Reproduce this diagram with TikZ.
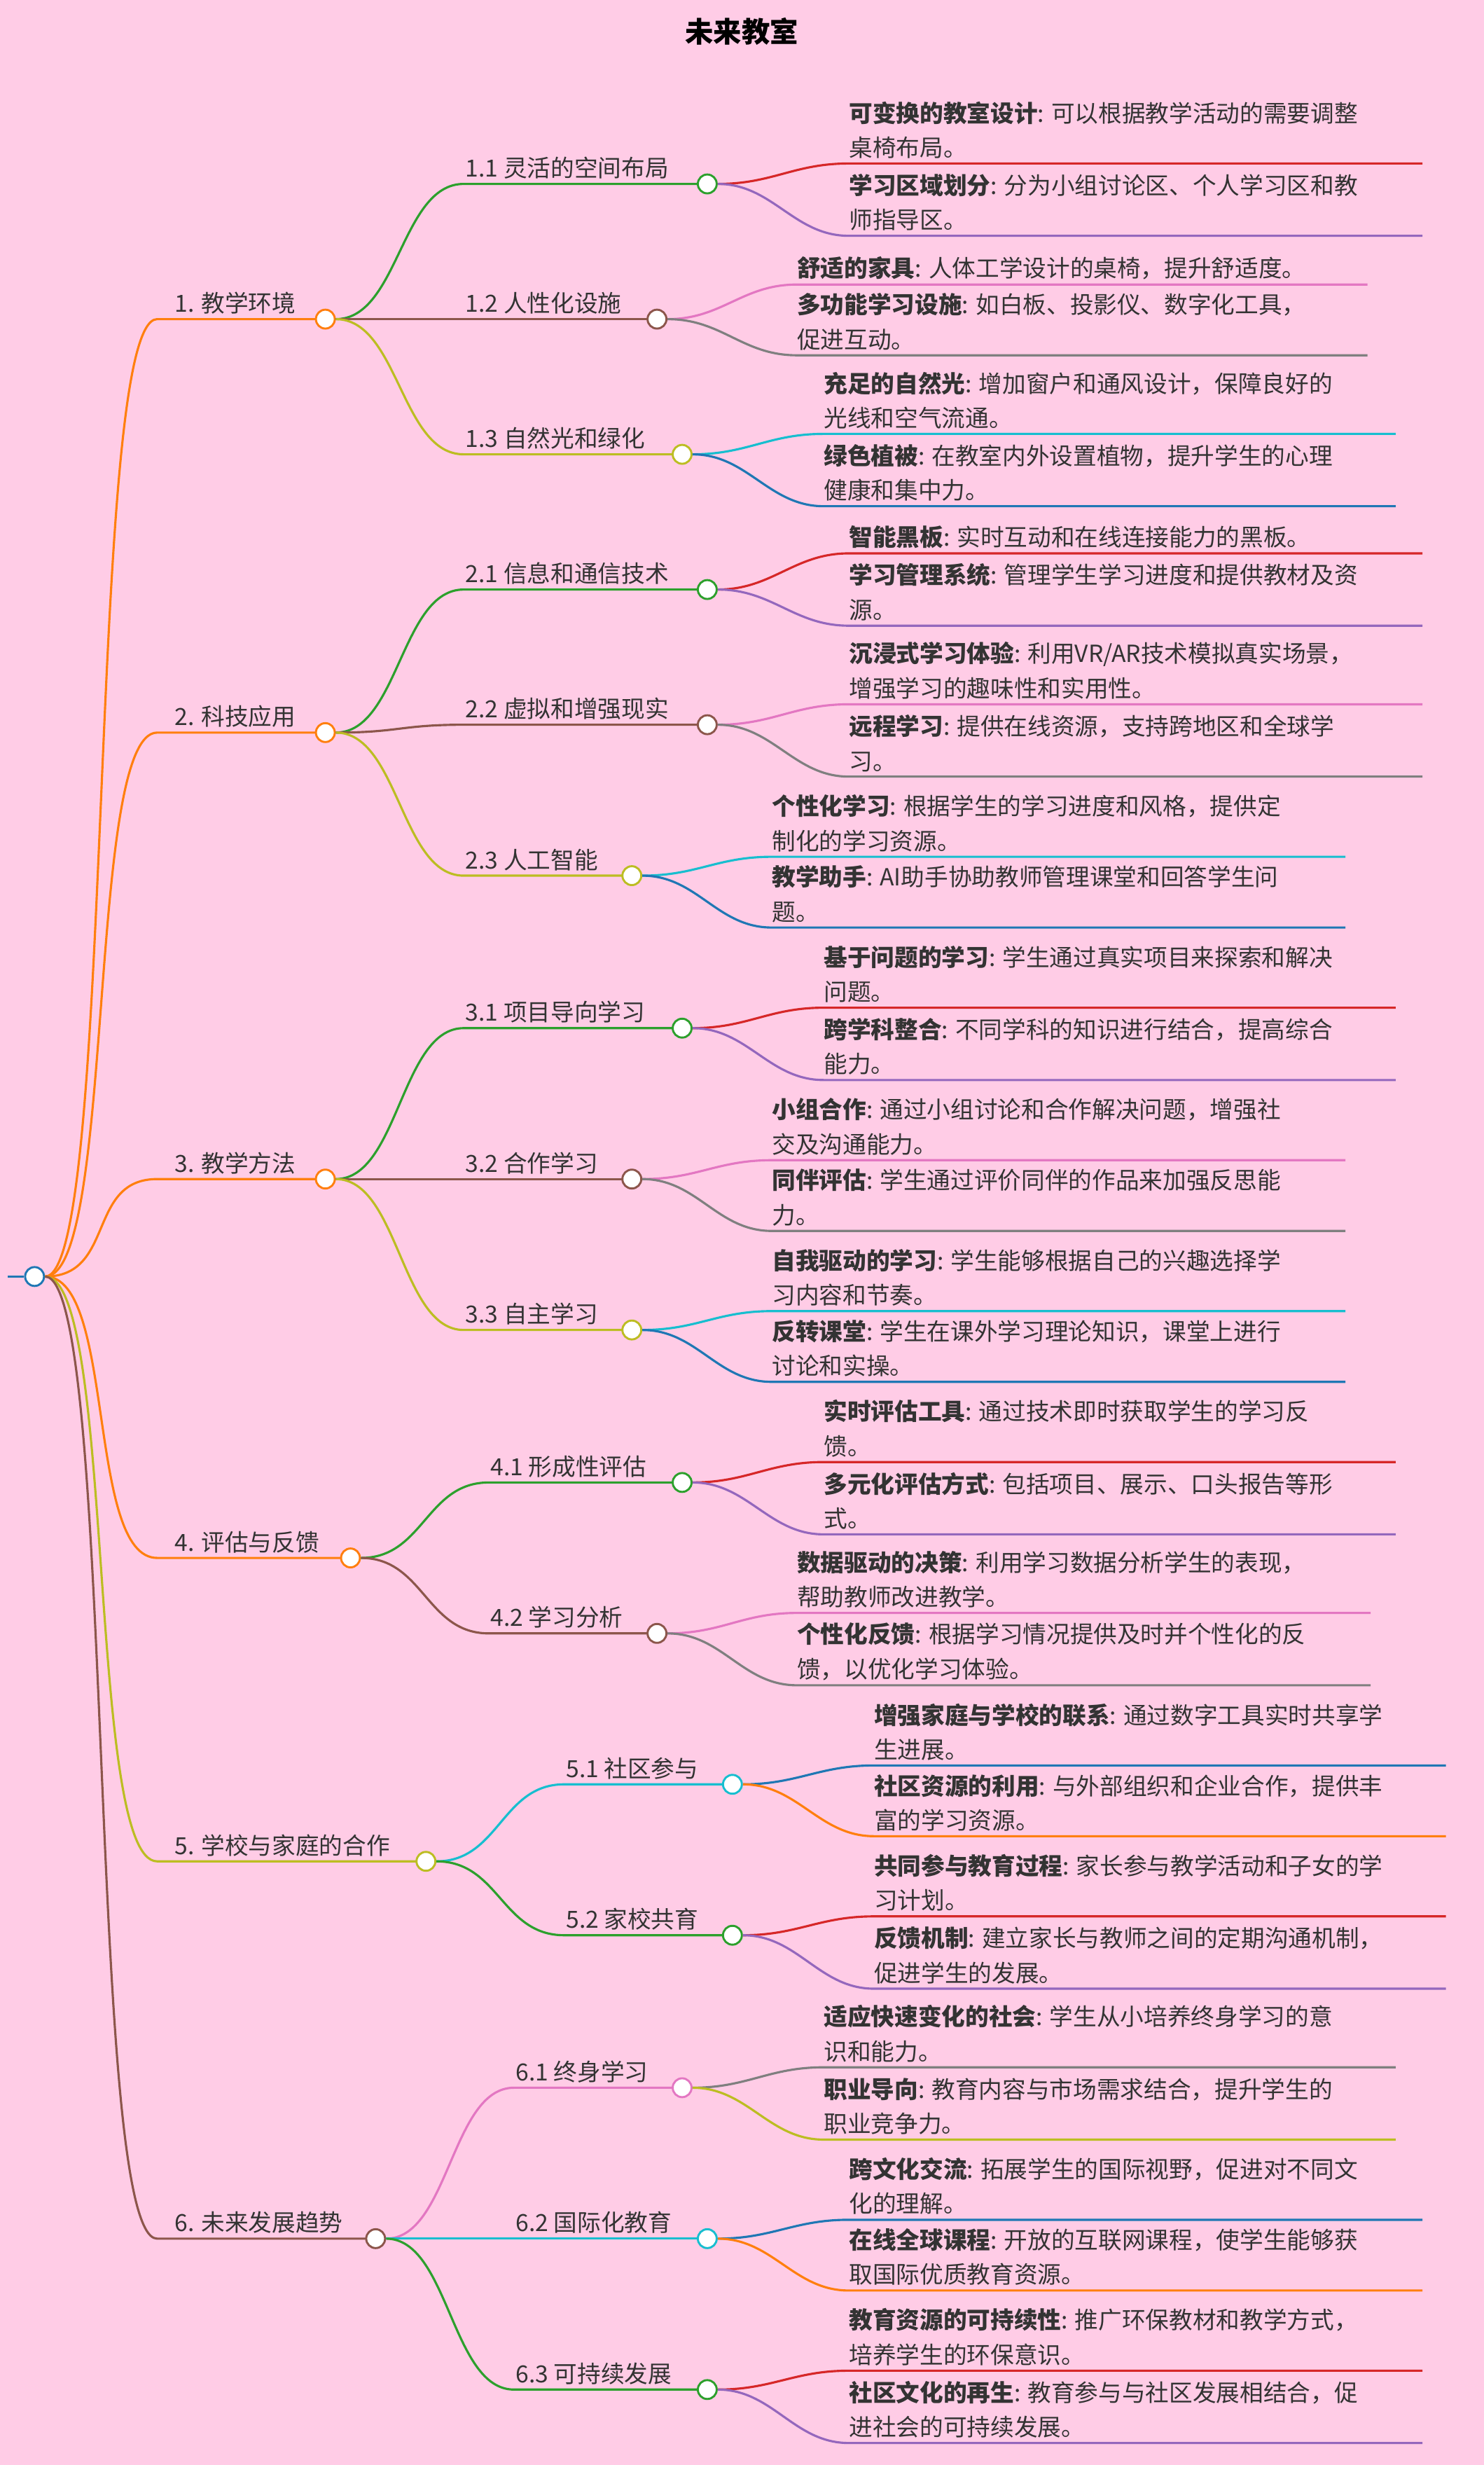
\documentclass[tikz,border=0pt]{standalone}
\usepackage{fontspec}
\setmainfont{Noto Sans CJK SC}
\begin{document}
\begin{tikzpicture}[x={(1pt,0)},y={(0,-1pt)},
  edge/.style={line width=1.4pt},
  dot/.style={circle,draw,line width=1.3pt,fill=white,minimum size=12pt,inner sep=0pt},
  lbl/.style={font=\fontsize{15}{20}\selectfont,text=black!80,inner xsep=1pt,inner ysep=3pt},
  leaftext/.style={font=\fontsize{15}{22}\selectfont,text=black!80,align=left,inner xsep=0pt,inner ysep=3pt}]
\definecolor{bg}{HTML}{FFCCE6}
\definecolor{cOr}{HTML}{FF7F0E}
\definecolor{cOl}{HTML}{BCBD22}
\definecolor{cBr}{HTML}{8C564B}
\definecolor{cGr}{HTML}{2CA02C}
\definecolor{cRd}{HTML}{D62728}
\definecolor{cPu}{HTML}{9467BD}
\definecolor{cPk}{HTML}{E377C2}
\definecolor{cGy}{HTML}{7F7F7F}
\definecolor{cCy}{HTML}{17BECF}
\definecolor{cBl}{HTML}{1F77B4}
\fill[bg] (0,0) rectangle (944,1568);
\useasboundingbox (0,0) rectangle (944,1568);
\node[font=\bfseries\fontsize{18}{22}\selectfont] (title) at (472,20) {未来教室};
\coordinate (r0) at (5,812);
\node[dot,draw=cBl] (root) at (22,812) {};
\draw[cBl,edge] (r0) -- (root);
% level 1: name, start x, circle x, y, color, text
\newcommand\lone[6]{%
  \coordinate (#1s) at (#2,#4);
  \draw[#5,edge] (root.east) .. controls +(45,0) and +(-45,0) .. (#1s) -- (#3,#4);
  \node[dot,draw=#5] (#1) at (#3,#4) {};
  \node[lbl,anchor=south west] (#1t) at ([xshift=10pt]#1s) {#6};}
\newcommand\ltwo[7]{% name parent startx circlex y color text
  \coordinate (#1s) at (#3,#5);
  \draw[#6,edge] (#2.east) .. controls +(40,0) and +(-40,0) .. (#1s) -- (#4,#5);
  \node[dot,draw=#6] (#1) at (#4,#5) {};
  \node[lbl,anchor=south west] (#1t) at (#1s) {#7};}
\newcommand\lf[7]{% parent x y xend color bold rest
  \coordinate (s) at (#2,#3);
  \draw[#5,edge] (#1.east) .. controls +(35,0) and +(-35,0) .. (s) -- (#4,#3);
  \node[leaftext,anchor=south west] at (s) {\textbf{#6}: #7};}
\lone{a}{100}{207}{203}{cOr}{1. 教学环境}
\lone{b}{100}{207}{466}{cOr}{2. 科技应用}
\lone{c}{100}{207}{750}{cOr}{3. 教学方法}
\lone{d}{100}{223}{991}{cOr}{4. 评估与反馈}
\lone{e}{100}{271}{1184}{cOl}{5. 学校与家庭的合作}
\lone{f}{100}{239}{1424}{cBr}{6. 未来发展趋势}
\ltwo{a1}{a}{295}{450}{117}{cGr}{1.1 灵活的空间布局}
\ltwo{a2}{a}{295}{418}{203}{cBr}{1.2 人性化设施}
\ltwo{a3}{a}{295}{434}{289}{cOl}{1.3 自然光和绿化}
\ltwo{b1}{b}{295}{450}{375}{cGr}{2.1 信息和通信技术}
\ltwo{b2}{b}{295}{450}{461}{cBr}{2.2 虚拟和增强现实}
\ltwo{b3}{b}{295}{402}{557}{cOl}{2.3 人工智能}
\ltwo{c1}{c}{295}{434}{654}{cGr}{3.1 项目导向学习}
\ltwo{c2}{c}{295}{402}{750}{cBr}{3.2 合作学习}
\ltwo{c3}{c}{295}{402}{846}{cOl}{3.3 自主学习}
\ltwo{d1}{d}{311}{434}{943}{cGr}{4.1 形成性评估}
\ltwo{d2}{d}{311}{418}{1039}{cBr}{4.2 学习分析}
\ltwo{e1}{e}{359}{466}{1135}{cCy}{5.1 社区参与}
\ltwo{e2}{e}{359}{466}{1231}{cGr}{5.2 家校共育}
\ltwo{f1}{f}{327}{434}{1328}{cPk}{6.1 终身学习}
\ltwo{f2}{f}{327}{450}{1424}{cCy}{6.2 国际化教育}
\ltwo{f3}{f}{327}{450}{1520}{cGr}{6.3 可持续发展}
\lf{a1}{540}{104}{905}{cRd}{可变换的教室设计}{可以根据教学活动的需要调整\\桌椅布局。}
\lf{a1}{540}{150}{905}{cPu}{学习区域划分}{分为小组讨论区、个人学习区和教\\师指导区。}
\lf{a2}{507}{181}{870}{cPk}{舒适的家具}{人体工学设计的桌椅，提升舒适度。}
\lf{a2}{507}{226}{870}{cGy}{多功能学习设施}{如白板、投影仪、数字化工具，\\促进互动。}
\lf{a3}{524}{276}{888}{cCy}{充足的自然光}{增加窗户和通风设计，保障良好的\\光线和空气流通。}
\lf{a3}{524}{322}{888}{cBl}{绿色植被}{在教室内外设置植物，提升学生的心理\\健康和集中力。}
\lf{b1}{540}{352}{905}{cRd}{智能黑板}{实时互动和在线连接能力的黑板。}
\lf{b1}{540}{398}{905}{cPu}{学习管理系统}{管理学生学习进度和提供教材及资\\源。}
\lf{b2}{540}{448}{905}{cPk}{沉浸式学习体验}{利用VR/AR技术模拟真实场景，\\增强学习的趣味性和实用性。}
\lf{b2}{540}{494}{905}{cGy}{远程学习}{提供在线资源，支持跨地区和全球学\\习。}
\lf{b3}{491}{545}{856}{cCy}{个性化学习}{根据学生的学习进度和风格，提供定\\制化的学习资源。}
\lf{b3}{491}{590}{856}{cBl}{教学助手}{AI助手协助教师管理课堂和回答学生问\\题。}
\lf{c1}{524}{641}{888}{cRd}{基于问题的学习}{学生通过真实项目来探索和解决\\问题。}
\lf{c1}{524}{687}{888}{cPu}{跨学科整合}{不同学科的知识进行结合，提高综合\\能力。}
\lf{c2}{491}{738}{856}{cPk}{小组合作}{通过小组讨论和合作解决问题，增强社\\交及沟通能力。}
\lf{c2}{491}{783}{856}{cGy}{同伴评估}{学生通过评价同伴的作品来加强反思能\\力。}
\lf{c3}{491}{834}{856}{cCy}{自我驱动的学习}{学生能够根据自己的兴趣选择学\\习内容和节奏。}
\lf{c3}{491}{879}{856}{cBl}{反转课堂}{学生在课外学习理论知识，课堂上进行\\讨论和实操。}
\lf{d1}{524}{930}{888}{cRd}{实时评估工具}{通过技术即时获取学生的学习反\\馈。}
\lf{d1}{524}{976}{888}{cPu}{多元化评估方式}{包括项目、展示、口头报告等形\\式。}
\lf{d2}{507}{1026}{872}{cPk}{数据驱动的决策}{利用学习数据分析学生的表现，\\帮助教师改进教学。}
\lf{d2}{507}{1072}{872}{cGy}{个性化反馈}{根据学习情况提供及时并个性化的反\\馈，以优化学习体验。}
\lf{e1}{556}{1123}{920}{cBl}{增强家庭与学校的联系}{通过数字工具实时共享学\\生进展。}
\lf{e1}{556}{1168}{920}{cOr}{社区资源的利用}{与外部组织和企业合作，提供丰\\富的学习资源。}
\lf{e2}{556}{1219}{920}{cRd}{共同参与教育过程}{家长参与教学活动和子女的学\\习计划。}
\lf{e2}{556}{1265}{920}{cPu}{反馈机制}{建立家长与教师之间的定期沟通机制，\\促进学生的发展。}
\lf{f1}{524}{1315}{888}{cGy}{适应快速变化的社会}{学生从小培养终身学习的意\\识和能力。}
\lf{f1}{524}{1361}{888}{cOl}{职业导向}{教育内容与市场需求结合，提升学生的\\职业竞争力。}
\lf{f2}{540}{1412}{905}{cBl}{跨文化交流}{拓展学生的国际视野，促进对不同文\\化的理解。}
\lf{f2}{540}{1457}{905}{cOr}{在线全球课程}{开放的互联网课程，使学生能够获\\取国际优质教育资源。}
\lf{f3}{540}{1508}{905}{cRd}{教育资源的可持续性}{推广环保教材和教学方式，\\培养学生的环保意识。}
\lf{f3}{540}{1554}{905}{cPu}{社区文化的再生}{教育参与与社区发展相结合，促\\进社会的可持续发展。}
\end{tikzpicture}
\end{document}
